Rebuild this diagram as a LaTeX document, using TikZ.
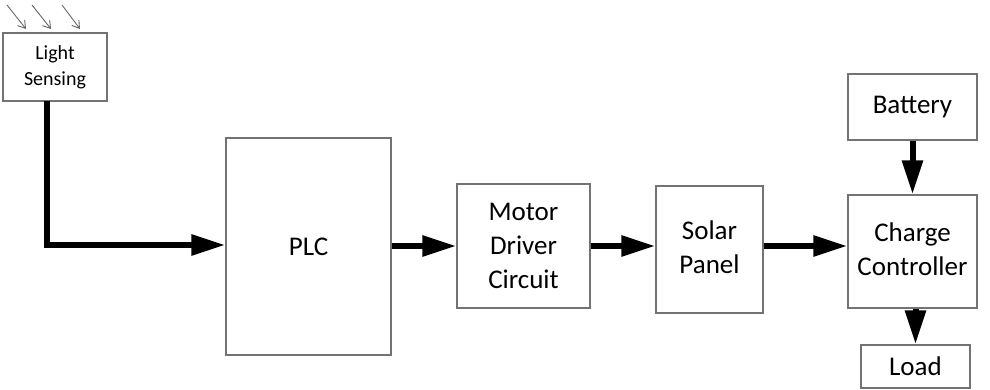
\documentclass[tikz,border=0pt]{standalone}
\usepackage{fontspec}
\setmainfont{Carlito}
\usetikzlibrary{arrows.meta}
\newcommand{\liftup}[2]{\raisebox{#1}{\begin{tabular}{@{}c@{}}#2\end{tabular}}}
\begin{document}
\begin{tikzpicture}[x=1pt,y=-1pt,
  blk/.style={draw=black!55,line width=1.3pt,fill=white,inner sep=0pt,align=center,font=\fontsize{27}{34}\selectfont},
  flow/.style={line width=6pt,-{Triangle[length=34pt,width=20pt]}},
  ray/.style={draw=black!60,line width=0.9pt,-{Straight Barb[length=7pt,width=9pt]}}]
\useasboundingbox (0,0) rectangle (990,390);
\node[blk,font=\fontsize{20}{26}\selectfont,minimum width=104pt,minimum height=68pt] (ls) at (55,67) {Light\\Sensing};
\node[blk,minimum width=165pt,minimum height=217pt] (plc) at (308.5,246.5) {PLC};
\node[blk,minimum width=133pt,minimum height=124pt] (md) at (523.5,246) {Motor\\Driver\\Circuit};
\node[blk,minimum width=107pt,minimum height=127pt] (sp) at (709.5,249.5) {\liftup{6pt}{Solar\\Panel}};
\node[blk,minimum width=129pt,minimum height=113pt] (cc) at (912.5,251.5) {\liftup{6pt}{Charge\\Controller}};
\node[blk,minimum width=129pt,minimum height=66pt] (bat) at (912.5,107) {Battery};
\node[blk,minimum width=109pt,minimum height=43pt] (load) at (915.5,366.5) {Load};
\coordinate (r1s) at (7,5); \coordinate (r1e) at (26,29);
\coordinate (r2s) at (32,5); \coordinate (r2e) at (51,29);
\coordinate (r3s) at (62,5); \coordinate (r3e) at (80,29);
\draw[ray] (r1s) -- (r1e);
\draw[ray] (r2s) -- (r2e);
\draw[ray] (r3s) -- (r3e);
\coordinate (bend) at (47,245);
\draw[flow] (47,101) -- (bend) -- (plc.west |- bend);
\draw[flow] (plc.east |- md.west) -- (md.west);
\draw[flow] (md.east) -- (sp.west |- md.east);
\draw[flow] (sp.east |- md.east) -- (cc.west |- md.east);
\draw[flow] (bat.south) -- (cc.north);
\draw[flow] (cc.south -| load.north) -- (load.north);
\end{tikzpicture}
\end{document}
